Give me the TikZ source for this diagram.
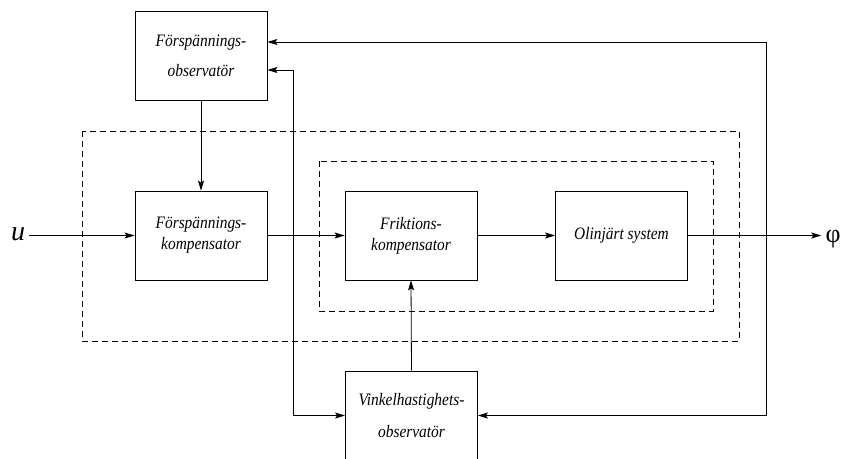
\documentclass[tikz,border=0pt]{standalone}
\usepackage{fontspec}
\setmainfont{Liberation Serif}[FakeStretch=0.88]
\newfontfamily\symfont{Liberation Serif}
\usetikzlibrary{arrows.meta,calc}
\begin{document}
\begin{tikzpicture}[x=1pt,y=-1pt,
  blk/.style={draw, line width=0.8pt, minimum width=132pt, minimum height=89pt, inner sep=0pt,
    font=\fontsize{17.5}{21}\selectfont\itshape, align=center},
  conn/.style={line width=0.8pt, -{Stealth[length=10pt,width=6pt,inset=2pt]}},
  plain/.style={line width=0.8pt},
  dashbox/.style={draw, line width=0.8pt, dash pattern=on 6pt off 4pt},
  sig/.style={font=\fontsize{28}{30}\selectfont\symfont, inner sep=4pt}]
\useasboundingbox (0,0) rectangle (842,458);

% dashed frames
\draw[dashbox] (82,131) rectangle (739,341);
\draw[dashbox] (319,161) rectangle (713,311);

% blocks
\node[blk] (b1) at (201,56) {Förspännings-\\[9pt]observatör};
\node[blk] (b2) at (201,235.5) {Förspännings-\\kompensator};
\node[blk] (b3) at (411,235.5) {Friktions-\\kompensator};
\node[blk] (b4) at (621.5,235.5) {Olinjärt system};
\node[blk] (b5) at (411.5,415.5) {Vinkelhastighets-\\[11pt]observatör};

% signals
\node[sig] (u) at (18,234) {\itshape u};
\node[sig, font=\fontsize{26}{28}\selectfont\symfont] (phi) at (833,239) {φ};

% junctions
\coordinate (j) at (293,235.5);
\coordinate (fb) at (766,235.5);

% main path
\draw[conn] (u.east |- b2.west) -- (b2.west);
\draw[conn] (b2.east) -- (b3.west);
\draw[conn] (b3.east) -- (b4.west);
\draw[conn] (b4.east) -- (b4.east -| phi.west);
\draw[conn] (b1.south) -- (b2.north);
\draw[conn] (b5.north) -- (b3.south);

% feedback from output
\draw[conn] (fb) |- ($(b1.east)+(0,-14)$);
\draw[conn] (fb) |- (b5.east);

% feedback from control signal
\draw[conn] (j) |- ($(b1.east)+(0,14)$);
\draw[conn] (j) |- (b5.west);
\end{tikzpicture}
\end{document}
